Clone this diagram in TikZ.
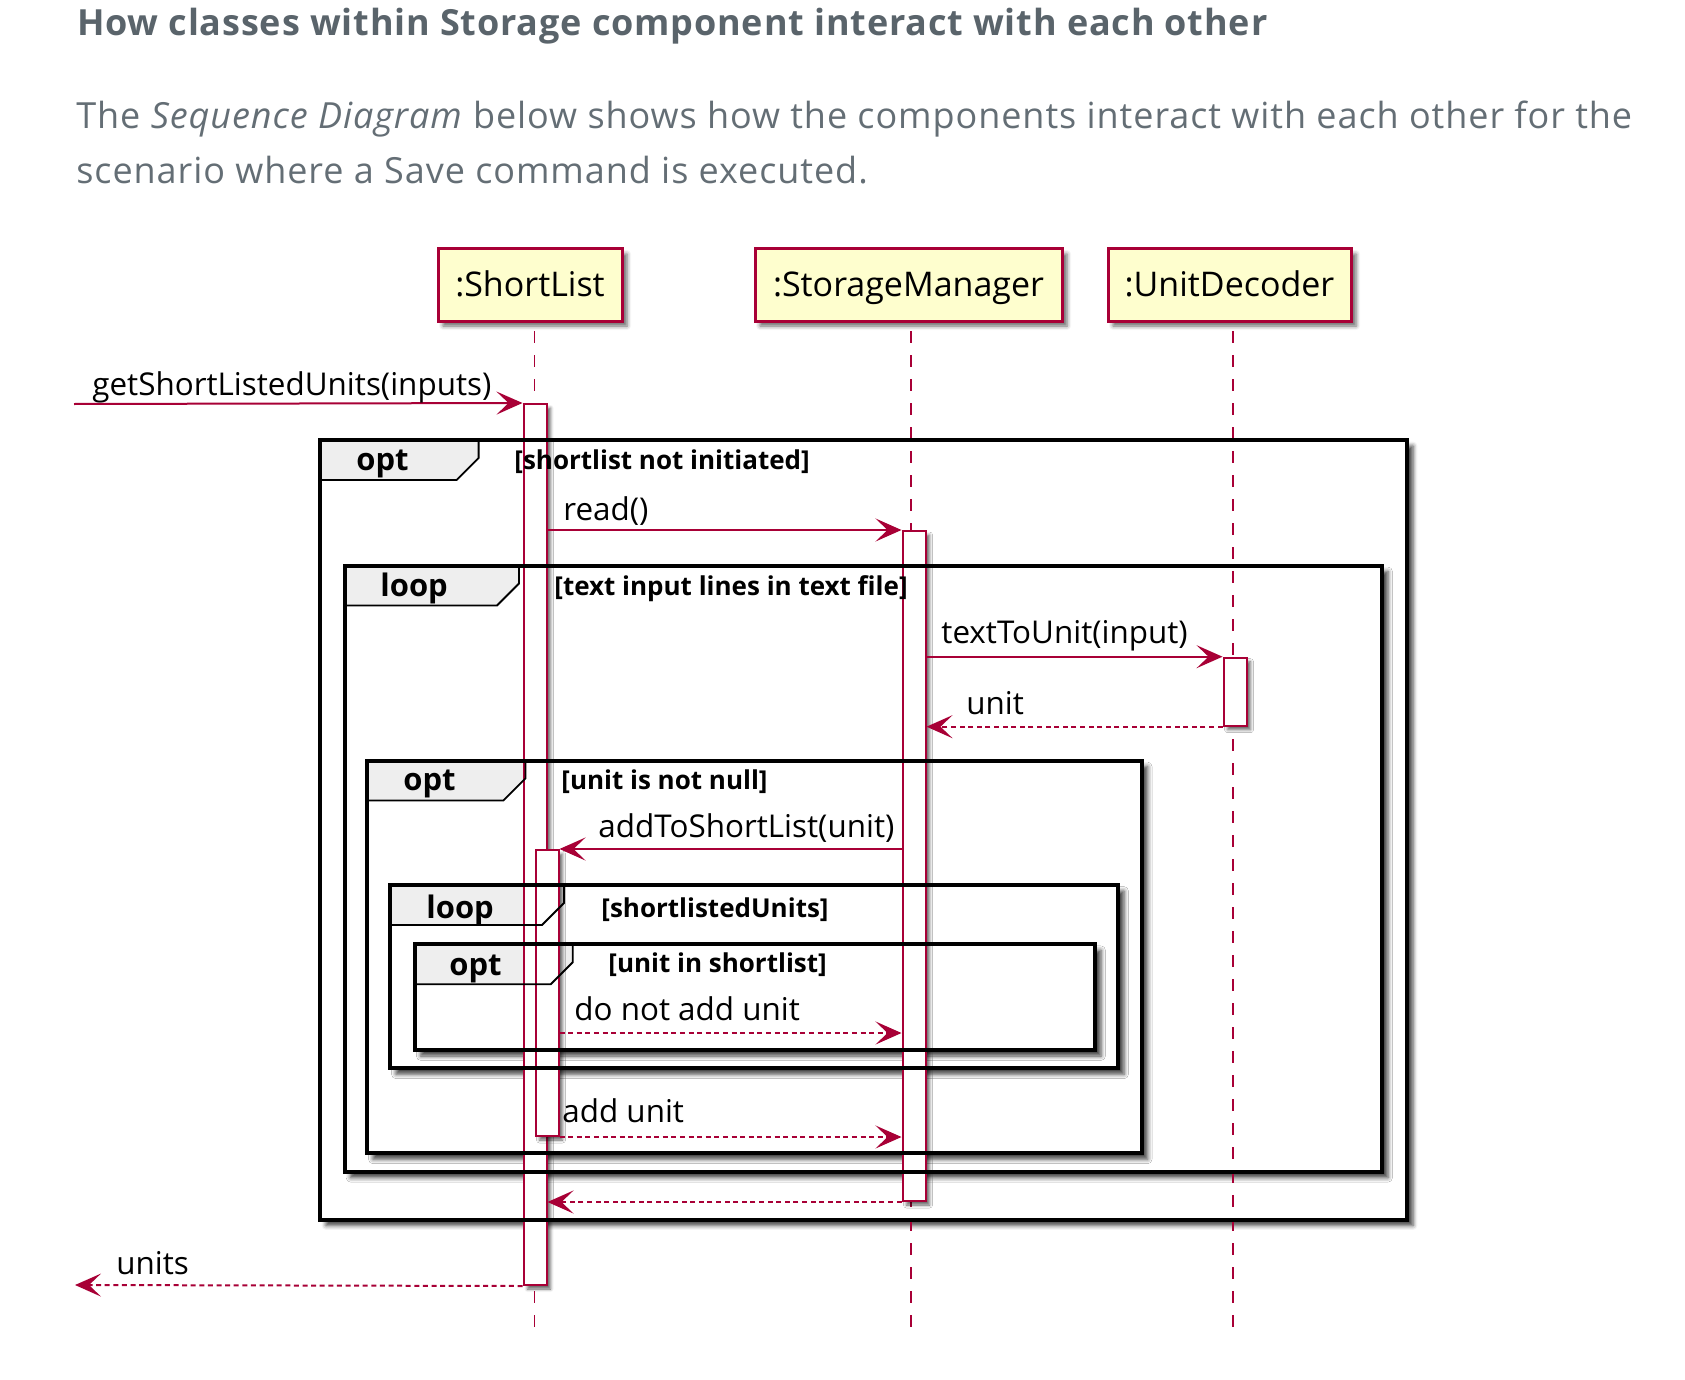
\documentclass[tikz,border=0pt]{standalone}
\usepackage{fontspec}
\setmainfont{Open Sans}
\usetikzlibrary{arrows.meta,shadows.blur}

\definecolor{seqred}{HTML}{A80036}
\definecolor{seqyellow}{HTML}{FEFECE}
\definecolor{tabgray}{HTML}{EEEEEE}
\definecolor{headgray}{HTML}{5A646B}
\definecolor{textgray}{HTML}{646E75}

\tikzset{
  txt/.style={anchor=base west, inner sep=0pt},
  msg/.style={txt, font=\fontsize{15.7}{18}\selectfont},
  participant/.style={draw=seqred, fill=seqyellow, line width=1.5pt, inner sep=0pt,
    minimum height=36pt, text height=1.25em, text depth=0.12em,
    font=\fontsize{17}{20}\selectfont,
    blur shadow={shadow xshift=2.5pt, shadow yshift=-2.5pt, shadow blur radius=2pt, shadow opacity=60}},
  lifeline/.style={draw=seqred, line width=0.8pt, dash pattern=on 6pt off 6pt},
  activation/.style={draw=seqred, fill=white, line width=1pt, inner sep=0pt,
    minimum width=11.5pt,
    blur shadow={shadow xshift=2pt, shadow yshift=-2pt, shadow blur radius=1.5pt, shadow opacity=60}},
  call/.style={draw=seqred, line width=1pt, -{Stealth[length=13pt, width=11.5pt, inset=6pt]}},
  reply/.style={call, dash pattern=on 2.5pt off 1.8pt},
  fragback/.style={fill=white,
    blur shadow={shadow xshift=3pt, shadow yshift=-3pt, shadow blur radius=2.2pt, shadow opacity=75}},
  fragline/.style={draw=black, line width=2pt},
  fragtab/.style={draw=black, line width=0.9pt},
  fraglabel/.style={txt, font=\bfseries\fontsize{15.5}{18}\selectfont},
  guard/.style={txt, font=\bfseries\fontsize{13}{16}\selectfont},
  heading/.style={txt, text=headgray, font=\fontsize{18}{22}\selectfont\bfseries\addfontfeatures{LetterSpace=2.3}},
  intro/.style={txt, text=textgray, font=\fontsize{18}{22}\selectfont\addfontfeatures{LetterSpace=2.6}},
}

\begin{document}
\begin{tikzpicture}[x=0.5pt, y=-0.5pt]

\useasboundingbox (0,0) rectangle (1685,1380);

\node [heading] (title) at (76.7,36) {How classes within Storage component interact with each other};
\node [intro] (intro1) at (76,128.3) {The \textit{Sequence Diagram} below shows how the components interact with each other for the};
\node [intro] (intro2) at (76,183.3) {scenario where a Save command is executed.};

\fill [fragback] (320,440) rectangle (1407,1219.5);
\fill [fragback] (344.6,565.5) rectangle (1382,1171.7);
\fill [fragback] (367,760.5) rectangle (1141.6,1153.3);
\fill [fragback] (390,885) rectangle (1118,1068.3);
\fill [fragback] (414.8,944.3) rectangle (1095,1050);

\fill [tabgray] (320,440) -- (478.6,440) -- (478.6,458) -- (456.6,480) -- (320,480) -- cycle;
\fill [tabgray] (344.6,565.5) -- (519,565.5) -- (519,583.5) -- (497,605.5) -- (344.6,605.5) -- cycle;
\fill [tabgray] (367,760.5) -- (525.4,760.5) -- (525.4,778.5) -- (503.4,800.5) -- (367,800.5) -- cycle;
\fill [tabgray] (390,885) -- (564,885) -- (564,903) -- (542,925) -- (390,925) -- cycle;
\fill [tabgray] (414.8,944.3) -- (572.7,944.3) -- (572.7,962.3) -- (550.7,984.3) -- (414.8,984.3) -- cycle;

\node [participant, minimum width=92pt] (sl) at (530,285) {:ShortList};
\node [participant, minimum width=153.5pt] (sm) at (908.5,285) {:StorageManager};
\node [participant, minimum width=121.5pt] (ud) at (1229.5,285) {:UnitDecoder};

\coordinate (slTop) at (534.5,331);
\coordinate (slBot) at (534.5,1328);
\coordinate (smTop) at (911,331);
\coordinate (smBot) at (911,1328);
\coordinate (udTop) at (1233,331);
\coordinate (udBot) at (1233,1328);

\draw [lifeline] (slTop) -- (slBot);
\draw [lifeline] (smTop) -- (smBot);
\draw [lifeline] (udTop) -- (udBot);

\node [activation, minimum height=440.5pt] (actA) at (535,844.5) {};
\node [activation, minimum height=335pt] (actB) at (914,866) {};
\node [activation, minimum height=34pt] (actC) at (1235,691.7) {};
\node [activation, minimum height=143pt] (actD) at (547,993) {};

\coordinate (inL) at (74,404);
\coordinate (outL) at (75,1285);
\coordinate (dna) at (0,1033);

\draw [call] (inL) -- (actA.north west);
\draw [call] (actA.east |- actB.north) -- (actB.north west);
\draw [call] (actB.east |- actC.north) -- (actC.north west);
\draw [reply] (actC.south west) -- (actB.east |- actC.south);
\draw [call] (actB.west |- actD.north) -- (actD.north east);
\draw [reply] (actD.east |- dna) -- (actB.west |- dna);
\draw [reply] (actD.south east) -- (actB.west |- actD.south);
\draw [reply] (actB.south west) -- (actA.east |- actB.south);
\draw [reply] (actA.south west) -- (outL);

\node [msg] (mGet) at (92,395) {getShortListedUnits(inputs)};
\node [msg] (mRead) at (563,520) {read()};
\node [msg] (mText) at (941,643) {textToUnit(input)};
\node [msg] (mUnit) at (966,714) {unit};
\node [msg] (mAdd) at (598,837) {addToShortList(unit)};
\node [msg] (mSkip) at (574,1020) {do not add unit};
\node [msg] (mAddUnit) at (562,1122) {add unit};
\node [msg] (mUnits) at (116,1274) {units};

\draw [fragline] (320,440) rectangle (1407,1219.5);
\draw [fragtab] (478.6,440) -- (478.6,458) -- (456.6,480) -- (320,480);
\draw [fragline] (344.6,565.5) rectangle (1382,1171.7);
\draw [fragtab] (519,565.5) -- (519,583.5) -- (497,605.5) -- (344.6,605.5);
\draw [fragline] (367,760.5) rectangle (1141.6,1153.3);
\draw [fragtab] (525.4,760.5) -- (525.4,778.5) -- (503.4,800.5) -- (367,800.5);
\draw [fragline] (390,885) rectangle (1118,1068.3);
\draw [fragtab] (564,885) -- (564,903) -- (542,925) -- (390,925);
\draw [fragline] (414.8,944.3) rectangle (1095,1050);
\draw [fragtab] (572.7,944.3) -- (572.7,962.3) -- (550.7,984.3) -- (414.8,984.3);

\node [fraglabel] (opt1) at (356,470) {opt};
\node [guard] (g1) at (514,469) {[shortlist not initiated]};
\node [fraglabel] (loop1) at (380,596) {loop};
\node [guard] (g2) at (554,595) {[text input lines in text file]};
\node [fraglabel] (opt2) at (403,790) {opt};
\node [guard] (g3) at (561,789) {[unit is not null]};
\node [fraglabel] (loop2) at (426,918) {loop};
\node [guard] (g4) at (601,917) {[shortlistedUnits]};
\node [fraglabel] (opt3) at (449,975) {opt};
\node [guard] (g5) at (608,972) {[unit in shortlist]};

\end{tikzpicture}
\end{document}
